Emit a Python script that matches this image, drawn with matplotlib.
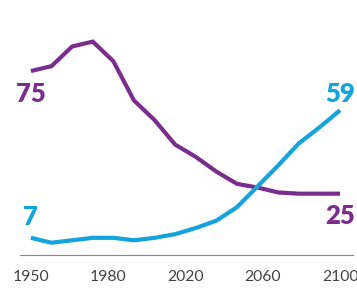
import numpy as np
import matplotlib.pyplot as plt

years = np.arange(1950, 2101, 10)
purple_vals = [75, 77, 85, 87, 79, 63, 55, 45, 40, 34, 29, 27.5, 25.5, 25, 25, 25]
blue_vals = [7, 5, 6, 7, 7, 6, 7, 8.5, 11, 14, 19.5, 28, 36.5, 45.5, 52, 59]
tick_labels = ['1950', '1980', '2020', '2060', '2100']

purple = '#7b2d8e'
blue = '#13a3dd'

fig = plt.figure(figsize=(3.57, 2.89), dpi=100)
ax = fig.add_axes([20 / 357, 1 - 255 / 289, 333 / 357, 235 / 289])

ax.plot(years, purple_vals, color=purple, lw=3, solid_capstyle='butt', solid_joinstyle='miter')
ax.plot(years, blue_vals, color=blue, lw=3, solid_capstyle='butt', solid_joinstyle='miter')

# end labels
lbl = dict(family='Lato', weight='heavy', fontsize=18.5, ha='center', va='baseline')
ax.text(years[0], 62.5, str(purple_vals[0]), color=purple, **lbl)
ax.text(years[0], 12.2, str(blue_vals[0]), color=blue, **lbl)
ax.text(years[-1], 62.4, str(blue_vals[-1]), color=blue, **lbl)
ax.text(years[-1], 12.6, str(purple_vals[-1]), color=purple, **lbl)

ax.set_xlim(1944.7, 2106.3)
ax.set_ylim(0, 95.8)
ax.set_xticks(np.linspace(1950, 2100, 5))
ax.set_xticklabels(tick_labels, family='Lato', fontsize=11.3, color='#444444')
ax.tick_params(axis='x', length=0, pad=11)
ax.set_yticks([])
for s in ['top', 'right', 'left']:
    ax.spines[s].set_visible(False)
ax.spines['bottom'].set_color('#888888')
ax.spines['bottom'].set_linewidth(0.8)

fig.savefig('out.png', dpi=100)
